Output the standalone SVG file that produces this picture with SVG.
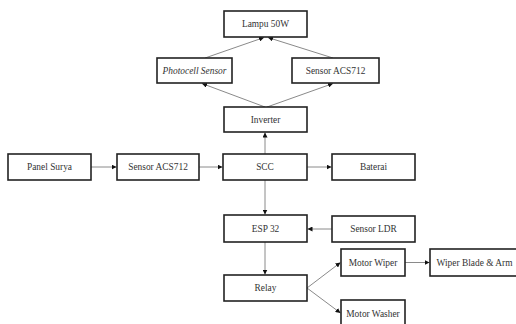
<svg xmlns="http://www.w3.org/2000/svg" width="516" height="324" viewBox="0 0 516 324">
<style>
.b{fill:#fff;stroke:#222;stroke-width:1.6}
.t{font-family:"Liberation Serif","Times New Roman",serif;font-size:9.4px;fill:#333;text-anchor:middle}
.c{stroke:#8a8a8a;stroke-width:1;fill:none;marker-end:url(#a)}
</style>
<defs>
<marker id="a" viewBox="0 0 6 6" refX="6" refY="3" markerWidth="5" markerHeight="5" orient="auto" markerUnits="userSpaceOnUse"><path d="M0,0L6,3L0,6z" fill="#111"/></marker>
</defs>
<rect width="516" height="324" fill="#fff"/>
<g id="connectors">
<line class="c" x1="205" y1="58" x2="264" y2="37.5"/>
<line class="c" x1="333" y1="58" x2="268" y2="37.5"/>
<line class="c" x1="265" y1="107" x2="202" y2="83.5"/>
<line class="c" x1="267" y1="107" x2="333" y2="83.5"/>
<line class="c" x1="265" y1="154" x2="265" y2="132.5"/>
<line class="c" x1="91" y1="167" x2="116.5" y2="167"/>
<line class="c" x1="199" y1="167" x2="222.5" y2="167"/>
<line class="c" x1="307" y1="167" x2="331.5" y2="167"/>
<line class="c" x1="265" y1="180" x2="265" y2="214.5"/>
<line class="c" x1="332" y1="229" x2="307.5" y2="229"/>
<line class="c" x1="265" y1="242" x2="265" y2="274.5"/>
<line class="c" x1="307" y1="288" x2="340.5" y2="262.5"/>
<line class="c" x1="307" y1="288" x2="340.5" y2="313"/>
<line class="c" x1="405" y1="262.5" x2="429.5" y2="262.5"/>
</g>
<g id="lampu"><rect class="b" x="224" y="11" width="83" height="26"/><text class="t" x="265.5" y="27">Lampu 50W</text></g>
<g id="photocell"><rect class="b" x="157" y="58" width="75" height="25"/><text class="t" x="194.5" y="73.5" font-style="italic">Photocell Sensor</text></g>
<g id="acs-top"><rect class="b" x="292" y="58" width="87" height="25"/><text class="t" x="335.5" y="73.5">Sensor ACS712</text></g>
<g id="inverter"><rect class="b" x="224" y="107" width="83" height="25"/><text class="t" x="265.5" y="122.5">Inverter</text></g>
<g id="panel"><rect class="b" x="8" y="154" width="83" height="26"/><text class="t" x="49.5" y="170">Panel Surya</text></g>
<g id="acs-mid"><rect class="b" x="117" y="154" width="82" height="26"/><text class="t" x="158" y="170">Sensor ACS712</text></g>
<g id="scc"><rect class="b" x="223" y="154" width="84" height="26"/><text class="t" x="265" y="170">SCC</text></g>
<g id="baterai"><rect class="b" x="332" y="154" width="83" height="26"/><text class="t" x="373.5" y="170">Baterai</text></g>
<g id="esp"><rect class="b" x="224" y="215" width="83" height="27"/><text class="t" x="265.5" y="231.5">ESP 32</text></g>
<g id="ldr"><rect class="b" x="332" y="216" width="83" height="26"/><text class="t" x="373.5" y="232">Sensor LDR</text></g>
<g id="relay"><rect class="b" x="224" y="275" width="83" height="26"/><text class="t" x="265.5" y="291">Relay</text></g>
<g id="wiper"><rect class="b" x="341" y="249" width="64" height="27"/><text class="t" x="373" y="265.5">Motor Wiper</text></g>
<g id="blade"><rect class="b" x="430" y="249" width="90" height="27"/><text class="t" x="474.5" y="265.5">Wiper Blade &amp; Arm</text></g>
<g id="washer"><rect class="b" x="341" y="300" width="64" height="27"/><text class="t" x="373" y="316.5">Motor Washer</text></g>
</svg>
